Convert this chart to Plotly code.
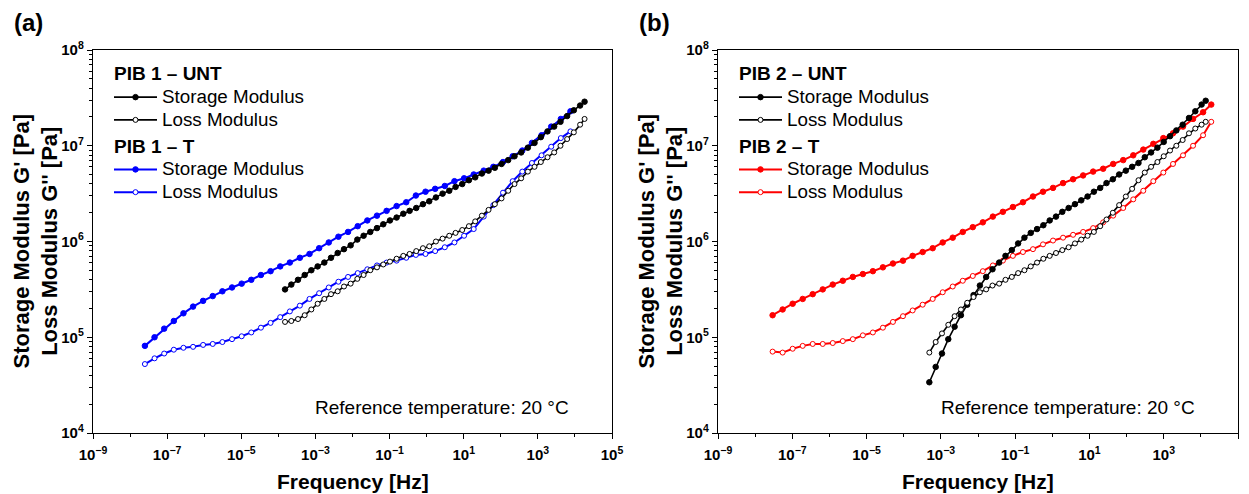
import numpy as np
import plotly.graph_objects as go

# ---- Panel (a): PIB 1 master curves, log10(frequency / Hz) and log10(modulus / Pa) ----
pib1_unt_logf = [-3.82, -3.65, -3.47, -3.29, -3.11, -2.94, -2.76, -2.58, -2.40, -2.23,
                 -2.05, -1.87, -1.70, -1.52, -1.34, -1.17, -0.99, -0.81, -0.63, -0.46,
                 -0.28, -0.10, 0.07, 0.25, 0.43, 0.61, 0.78, 0.96, 1.14, 1.31,
                 1.49, 1.67, 1.84, 2.02, 2.20, 2.37, 2.55, 2.73, 2.91, 3.08,
                 3.26, 3.44, 3.61, 3.79, 3.97, 4.14, 4.26]
pib1_unt_storage = [5.50, 5.55, 5.60, 5.65, 5.70, 5.74, 5.78, 5.83, 5.88, 5.92,
                    5.96, 6.02, 6.06, 6.10, 6.14, 6.18, 6.22, 6.25, 6.29, 6.32,
                    6.35, 6.39, 6.42, 6.46, 6.50, 6.53, 6.57, 6.60, 6.64, 6.67,
                    6.71, 6.74, 6.77, 6.81, 6.85, 6.89, 6.93, 6.98, 7.03, 7.09,
                    7.15, 7.20, 7.25, 7.31, 7.37, 7.42, 7.46]
pib1_unt_loss = [5.16, 5.17, 5.19, 5.23, 5.29, 5.35, 5.40, 5.45, 5.48, 5.53,
                 5.56, 5.61, 5.65, 5.70, 5.73, 5.76, 5.79, 5.82, 5.85, 5.87,
                 5.90, 5.93, 5.95, 6.00, 6.03, 6.06, 6.09, 6.12, 6.16, 6.21,
                 6.27, 6.33, 6.39, 6.45, 6.53, 6.60, 6.66, 6.73, 6.78, 6.83,
                 6.88, 6.93, 7.00, 7.07, 7.14, 7.22, 7.28]

pib1_t_logf = [-7.60, -7.34, -7.08, -6.82, -6.56, -6.30, -6.03, -5.77, -5.51, -5.25,
               -4.99, -4.73, -4.47, -4.21, -3.95, -3.69, -3.42, -3.16, -2.90, -2.64,
               -2.38, -2.12, -1.86, -1.60, -1.34, -1.08, -0.81, -0.55, -0.29, -0.03,
               0.23, 0.49, 0.75, 1.01, 1.27, 1.54, 1.80, 2.06, 2.32, 2.58,
               2.84, 3.10, 3.36, 3.62, 3.88]
pib1_t_storage = [4.91, 5.00, 5.09, 5.17, 5.25, 5.32, 5.38, 5.43, 5.48, 5.52,
                  5.56, 5.60, 5.65, 5.69, 5.74, 5.78, 5.83, 5.87, 5.93, 5.99,
                  6.05, 6.10, 6.16, 6.22, 6.27, 6.32, 6.37, 6.41, 6.48, 6.52,
                  6.55, 6.58, 6.63, 6.66, 6.70, 6.74, 6.78, 6.83, 6.89, 6.95,
                  7.03, 7.11, 7.20, 7.28, 7.36]
pib1_t_loss = [4.72, 4.78, 4.83, 4.87, 4.89, 4.90, 4.92, 4.93, 4.95, 4.98,
               5.01, 5.05, 5.10, 5.15, 5.21, 5.27, 5.33, 5.40, 5.46, 5.52,
               5.58, 5.63, 5.67, 5.71, 5.75, 5.78, 5.80, 5.83, 5.86, 5.87,
               5.90, 5.94, 5.99, 6.06, 6.13, 6.26, 6.38, 6.51, 6.63, 6.73,
               6.82, 6.90, 6.99, 7.08, 7.15]

# ---- Panel (b): PIB 2 master curves ----
pib2_unt_logf = [-3.31, -3.14, -2.97, -2.80, -2.63, -2.46, -2.29, -2.12, -1.95, -1.78,
                 -1.61, -1.43, -1.26, -1.09, -0.92, -0.75, -0.58, -0.41, -0.24, -0.07,
                 0.10, 0.27, 0.44, 0.61, 0.78, 0.95, 1.12, 1.29, 1.46, 1.63,
                 1.80, 1.98, 2.15, 2.32, 2.49, 2.66, 2.83, 3.00, 3.17, 3.34,
                 3.51, 3.68, 3.85, 4.02, 4.13]
pib2_unt_storage = [4.53, 4.69, 4.83, 4.98, 5.11, 5.23, 5.34, 5.44, 5.54, 5.63,
                    5.71, 5.78, 5.85, 5.91, 5.98, 6.04, 6.09, 6.13, 6.17, 6.22,
                    6.26, 6.31, 6.35, 6.39, 6.43, 6.47, 6.52, 6.56, 6.61, 6.65,
                    6.70, 6.74, 6.78, 6.82, 6.88, 6.93, 6.98, 7.04, 7.10, 7.16,
                    7.22, 7.29, 7.36, 7.43, 7.47]
pib2_unt_loss = [4.84, 4.95, 5.04, 5.13, 5.22, 5.29, 5.36, 5.42, 5.47, 5.50,
                 5.54, 5.56, 5.60, 5.63, 5.67, 5.70, 5.74, 5.78, 5.82, 5.85,
                 5.88, 5.91, 5.94, 5.98, 6.02, 6.06, 6.10, 6.16, 6.23, 6.30,
                 6.38, 6.47, 6.55, 6.64, 6.72, 6.78, 6.83, 6.89, 6.95, 7.00,
                 7.06, 7.13, 7.18, 7.22, 7.25]

pib2_t_logf = [-7.53, -7.26, -6.99, -6.72, -6.45, -6.18, -5.91, -5.64, -5.37, -5.10,
               -4.83, -4.56, -4.29, -4.02, -3.76, -3.49, -3.22, -2.95, -2.68, -2.41,
               -2.14, -1.87, -1.60, -1.33, -1.06, -0.79, -0.52, -0.25, 0.02, 0.29,
               0.56, 0.83, 1.10, 1.37, 1.64, 1.91, 2.18, 2.45, 2.72, 2.99,
               3.25, 3.52, 3.79, 4.06, 4.28]
pib2_t_storage = [5.23, 5.29, 5.35, 5.40, 5.45, 5.50, 5.55, 5.59, 5.63, 5.66,
                  5.69, 5.73, 5.77, 5.80, 5.85, 5.89, 5.93, 5.99, 6.04, 6.10,
                  6.15, 6.20, 6.26, 6.31, 6.36, 6.41, 6.47, 6.52, 6.56, 6.61,
                  6.65, 6.69, 6.73, 6.76, 6.81, 6.85, 6.90, 6.96, 7.02, 7.08,
                  7.13, 7.20, 7.28, 7.35, 7.43]
pib2_t_loss = [4.85, 4.84, 4.88, 4.91, 4.93, 4.93, 4.94, 4.96, 4.98, 5.02,
               5.05, 5.10, 5.16, 5.22, 5.28, 5.34, 5.40, 5.47, 5.53, 5.59,
               5.64, 5.69, 5.75, 5.80, 5.85, 5.89, 5.92, 5.97, 6.01, 6.04,
               6.07, 6.10, 6.14, 6.20, 6.27, 6.35, 6.44, 6.53, 6.63, 6.72,
               6.81, 6.90, 7.00, 7.11, 7.25]

# ---- Axis tick labels ----
x_tick_exponents = [-9, -7, -5, -3, -1, 1, 3, 5]
x_minor_exponents = [-8, -6, -4, -2, 0, 2, 4]
y_tick_exponents = [4, 5, 6, 7, 8]

FONT = "Arial, 'Liberation Sans', sans-serif"
BLUE, RED, BLACK = "#0000ff", "#ff0000", "#000000"

W, H = 1249, 494
ML, MR, MT, MB = 93, 11, 50, 60.5
PW = W - ML - MR            # plot-area width in px
PH = H - MT - MB            # plot-area height in px

# legend rows are spaced by the (small) legend font size, while the
# visible labels are drawn larger through an inline span
LEGEND_ROW_FONT = 15.2


def px_x(px):
    """Figure pixel column -> paper x."""
    return (px - ML) / PW


def px_y(py):
    """Figure pixel row (from top) -> paper y."""
    return 1 - (py - MT) / PH


def big(text, size):
    return f'<span style="font-size:{size}px">{text}</span>'


fig = go.Figure()


def add_curve(logf, logg, color, width, filled, name, group, group_title,
              xa, ya, legend, rank):
    fig.add_trace(go.Scatter(
        x=np.power(10.0, logf), y=np.power(10.0, logg),
        mode="lines+markers", name=big(name, 18.8),
        line=dict(color=color, width=width),
        marker=dict(symbol="circle", size=5.5 if filled else 5,
                    color=color if filled else "white",
                    line=dict(color=color, width=1)),
        legendgroup=group,
        legendgrouptitle=dict(text=big(group_title, 19),
                              font=dict(family=FONT, size=LEGEND_ROW_FONT,
                                        color=BLACK, weight="bold")),
        legend=legend, legendrank=rank, xaxis=xa, yaxis=ya,
    ))


# treated samples first so the untreated curves sit on top
add_curve(pib1_t_logf, pib1_t_storage, BLUE, 2, True, "Storage Modulus",
          "a_t", "PIB 1 – T", "x", "y", "legend", 3)
add_curve(pib1_t_logf, pib1_t_loss, BLUE, 2, False, "Loss Modulus",
          "a_t", "PIB 1 – T", "x", "y", "legend", 4)
add_curve(pib1_unt_logf, pib1_unt_storage, BLACK, 1.6, True, "Storage Modulus",
          "a_unt", "PIB 1 – UNT", "x", "y", "legend", 1)
add_curve(pib1_unt_logf, pib1_unt_loss, BLACK, 1.6, False, "Loss Modulus",
          "a_unt", "PIB 1 – UNT", "x", "y", "legend", 2)

add_curve(pib2_t_logf, pib2_t_storage, RED, 2, True, "Storage Modulus",
          "b_t", "PIB 2 – T", "x2", "y2", "legend2", 3)
add_curve(pib2_t_logf, pib2_t_loss, RED, 2, False, "Loss Modulus",
          "b_t", "PIB 2 – T", "x2", "y2", "legend2", 4)
add_curve(pib2_unt_logf, pib2_unt_storage, BLACK, 1.6, True, "Storage Modulus",
          "b_unt", "PIB 2 – UNT", "x2", "y2", "legend2", 1)
add_curve(pib2_unt_logf, pib2_unt_loss, BLACK, 1.6, False, "Loss Modulus",
          "b_unt", "PIB 2 – UNT", "x2", "y2", "legend2", 2)

tick_font = dict(family=FONT, size=15, color=BLACK, weight="bold")

xaxis_common = dict(
    type="log", range=[-9, 5],
    tickmode="array",
    tickvals=[10.0 ** e for e in x_tick_exponents],
    ticktext=[f"10<sup>{str(e).replace('-', '−')}</sup>" for e in x_tick_exponents],
    minor=dict(tickmode="array", tickvals=[10.0 ** e for e in x_minor_exponents],
               ticks="outside", ticklen=3, tickwidth=1.2, tickcolor=BLACK, showgrid=False),
    ticks="outside", ticklen=5, tickwidth=1.2, tickcolor=BLACK,
    ticklabelstandoff=3,
    showline=True, linecolor=BLACK, linewidth=1.4, mirror=True,
    showgrid=False, zeroline=False, tickfont=tick_font,
)

y_minor = [m * 10.0 ** e for e in y_tick_exponents[:-1] for m in range(2, 10)]
yaxis_common = dict(
    type="log", range=[4, 8], domain=[0, 1],
    tickmode="array",
    tickvals=[10.0 ** e for e in y_tick_exponents],
    ticktext=[f"10<sup>{e}</sup>" for e in y_tick_exponents],
    minor=dict(tickmode="array", tickvals=y_minor,
               ticks="outside", ticklen=3, tickwidth=1, tickcolor=BLACK, showgrid=False),
    ticks="outside", ticklen=5, tickwidth=1.2, tickcolor=BLACK,
    showline=True, linecolor=BLACK, linewidth=1.4, mirror=True,
    showgrid=False, zeroline=False, tickfont=tick_font,
)

legend_common = dict(
    xanchor="left", yanchor="top",
    bgcolor="rgba(0,0,0,0)", borderwidth=0,
    font=dict(family=FONT, size=LEGEND_ROW_FONT, color=BLACK),
    tracegroupgap=4, itemwidth=43, itemsizing="trace",
    traceorder="grouped",
)

fig.update_layout(
    width=W, height=H,
    margin=dict(l=ML, r=MR, t=MT, b=MB, autoexpand=False),
    paper_bgcolor="white", plot_bgcolor="white",
    font=dict(family=FONT, color=BLACK),
    xaxis=dict(domain=[0, px_x(612)], anchor="y", **xaxis_common),
    yaxis=dict(anchor="x", **yaxis_common),
    xaxis2=dict(domain=[px_x(718), 1], anchor="y2", **xaxis_common),
    yaxis2=dict(anchor="x2", **yaxis_common),
    legend=dict(x=px_x(109), y=px_y(58), **legend_common),
    legend2=dict(x=px_x(734), y=px_y(58), **legend_common),
    showlegend=True,
)

title_font = dict(family=FONT, size=21, color=BLACK, weight="bold")
annotations = []
for xd, yd, letter in [("x domain", "y domain", "(a)"), ("x2 domain", "y2 domain", "(b)")]:
    # x-axis title
    annotations.append(dict(text="Frequency [Hz]", xref=xd, yref=yd, x=0.5, y=0,
                            xanchor="center", yanchor="middle", yshift=-48,
                            showarrow=False, font=title_font))
    # two-line y-axis title
    annotations.append(dict(text="Storage Modulus G' [Pa]<br>Loss Modulus G'' [Pa]",
                            xref=xd, yref=yd, x=0, y=0.5, xanchor="center",
                            yanchor="middle", xshift=-58, textangle=-90,
                            showarrow=False, font=dict(family=FONT, size=22,
                                                       color=BLACK, weight="bold")))
    # reference temperature note
    annotations.append(dict(text="Reference temperature: 20 °C", xref=xd, yref=yd,
                            x=1, y=0, xanchor="right", yanchor="middle",
                            xshift=-41, yshift=26, showarrow=False,
                            font=dict(family=FONT, size=19, color=BLACK)))
    # panel letter
    annotations.append(dict(text=letter, xref=xd, yref="paper", x=0, y=px_y(22),
                            xanchor="left", yanchor="middle", xshift=-81,
                            showarrow=False,
                            font=dict(family=FONT, size=24, color=BLACK, weight="bold")))
fig.update_layout(annotations=annotations)

fig.write_html("out.html")
